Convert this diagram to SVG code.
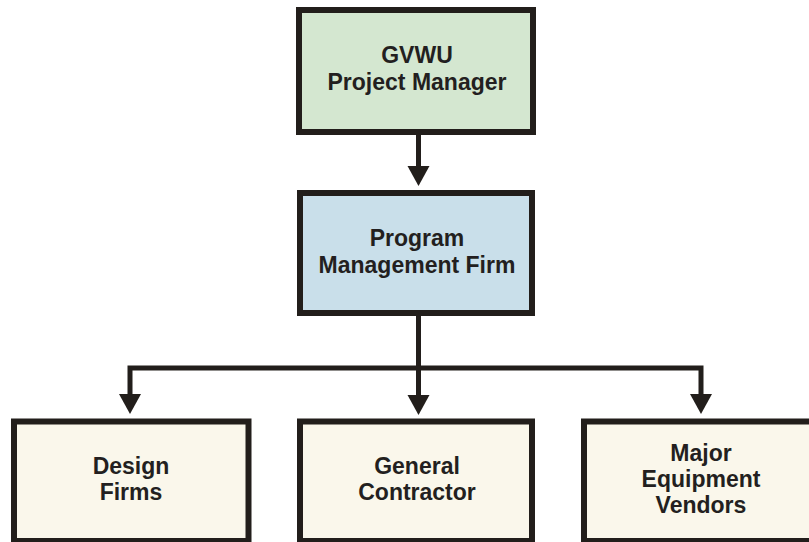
<svg xmlns="http://www.w3.org/2000/svg" width="809" height="542" viewBox="0 0 809 542">
  <style>
    .box { stroke: #221e1b; stroke-width: 6; }
    .green { fill: #d4e7d0; }
    .blue { fill: #c9dfea; }
    .cream { fill: #faf7eb; }
    .lbl { font-family: "Liberation Sans", Arial, sans-serif; font-weight: bold; font-size: 23px; fill: #231f20; text-anchor: middle; }
    .conn { fill: none; stroke: #221e1b; stroke-width: 5; stroke-linejoin: miter; stroke-linecap: butt; }
  </style>
  <defs>
    <marker id="arrow" markerUnits="userSpaceOnUse" markerWidth="24" markerHeight="24" refX="0" refY="11" orient="auto" overflow="visible">
      <path d="M0,0 L20,11 L0,22 Z" fill="#221e1b"/>
    </marker>
  </defs>
  <rect width="809" height="542" fill="#ffffff"/>

  <g id="connectors">
    <path class="conn" d="M418.5,135 V166" marker-end="url(#arrow)"/>
    <path class="conn" d="M418.5,316 V395" marker-end="url(#arrow)"/>
    <path class="conn" d="M418.5,368 H130 V394" marker-end="url(#arrow)"/>
    <path class="conn" d="M418.5,368 H701 V394" marker-end="url(#arrow)"/>
  </g>

  <g id="gvwu-project-manager">
    <rect class="box green" x="299" y="10" width="234" height="122"/>
    <text class="lbl" x="417" y="63">GVWU</text>
    <text class="lbl" x="417" y="89.5">Project Manager</text>
  </g>

  <g id="program-management-firm">
    <rect class="box blue" x="300" y="193" width="232" height="120"/>
    <text class="lbl" x="417" y="246">Program</text>
    <text class="lbl" x="417" y="272.5">Management Firm</text>
  </g>

  <g id="design-firms">
    <rect class="box cream" x="14" y="421.5" width="234.5" height="119.5"/>
    <text class="lbl" x="131" y="473.5">Design</text>
    <text class="lbl" x="131" y="499.5">Firms</text>
  </g>

  <g id="general-contractor">
    <rect class="box cream" x="300" y="421.5" width="232" height="119.5"/>
    <text class="lbl" x="417" y="473.5">General</text>
    <text class="lbl" x="417" y="499.5">Contractor</text>
  </g>

  <g id="major-equipment-vendors">
    <rect class="box cream" x="584" y="421.5" width="234" height="119.5"/>
    <text class="lbl" x="701" y="461">Major</text>
    <text class="lbl" x="701" y="487">Equipment</text>
    <text class="lbl" x="701" y="512.5">Vendors</text>
  </g>
</svg>
